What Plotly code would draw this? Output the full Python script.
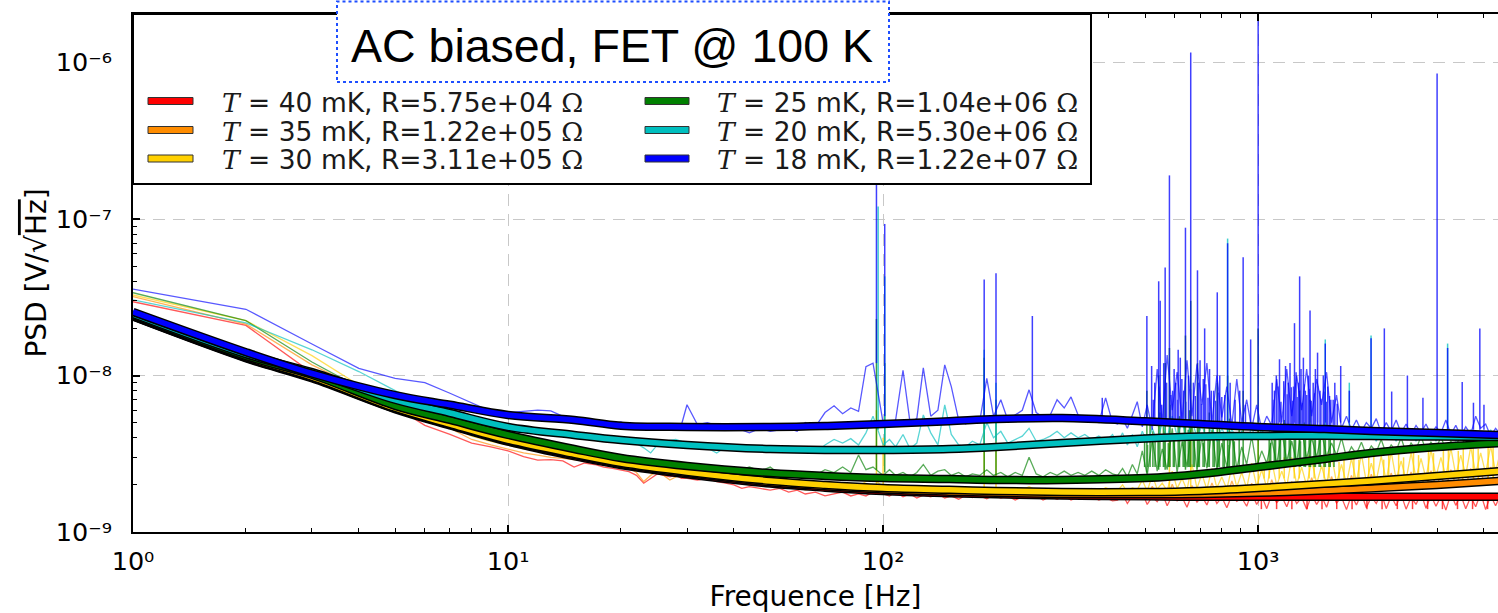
import plotly.graph_objects as go

# ---------------------------------------------------------------- data
temps_mk = [40, 35, 30, 25, 20, 18]
resist_ohm = [5.75e4, 1.22e5, 3.11e5, 1.04e6, 5.30e6, 1.22e7]
colors = ["#ff0000", "#ff8c00", "#ffd000", "#008000", "#00bfbf", "#0000ff"]

# measured noise spectra, common frequency grid [Hz], values in nV/sqrt(Hz)
freq_hz = [
    1, 2, 3, 4, 5, 6, 7, 8, 9, 10,
    11, 12, 13, 14, 15, 16, 17, 18, 19, 20, 21, 22, 23, 24, 25, 26, 27, 28, 29, 30,
    32, 34, 36, 38, 40, 42, 44, 47, 50, 53, 56, 59, 62, 66, 70, 74, 78, 82, 86, 90, 94,
    100, 104, 108, 113, 118, 123, 128, 134, 140, 146, 152, 159, 166, 173, 181, 189, 197,
    206, 215, 225, 235, 245, 256, 267, 279, 291, 304, 317, 331, 345, 360, 376, 392, 409,
    422, 435, 448, 462, 476, 491, 506, 522, 538, 555,
    572, 590, 608, 627, 646, 666, 687, 708, 730, 753,
    776, 800, 825, 851, 877, 904, 932, 961, 991, 1022,
    1054, 1087, 1121, 1156, 1192, 1229, 1267, 1306, 1347, 1389,
    1432, 1476, 1522, 1569, 1618, 1668, 1720, 1773, 1828, 1885,
    1943, 2003, 2065, 2129, 2195, 2263, 2333, 2405, 2480, 2557,
    2636, 2718, 2802, 2889, 2979, 3071, 3166, 3264, 3365, 3469,
    3577, 3688, 3802, 3920, 4042, 4167, 4296, 4430,
]

psd_40mk = [
    29.6, 20.9, 10.4, 8.3, 6.3, 4.8, 4.2, 3.7, 3.5, 3.3,
    3.03, 2.88, 2.9, 2.85, 2.6, 2.76, 2.7, 2.6, 2.55, 2.5, 2.43, 2.3, 2.05, 2.2, 2.35, 2.3, 2.25, 2.3, 2.2, 2.2,
    2.15, 2.2, 2.1, 2.05, 2.0, 1.9, 1.95, 1.9, 1.85, 1.9, 1.8, 1.85, 1.75, 1.8, 1.7, 1.75, 1.8, 1.7, 1.75, 1.7, 1.8,
    1.75, 1.7, 1.8, 1.68, 1.75, 1.65, 1.72, 1.68, 1.75, 1.65, 1.7, 1.62, 1.72, 1.66, 1.7, 1.63, 1.72,
    1.65, 1.7, 1.6, 1.68, 1.64, 1.7, 1.6, 1.68, 1.62, 1.7, 1.6, 1.67, 1.62, 1.68, 1.6, 1.66, 1.58,
    1.6, 1.74, 1.52, 1.7, 1.63, 1.78, 1.5, 1.68, 1.56, 1.76,
    1.47, 1.71, 1.58, 1.66, 1.44, 1.75, 1.55, 1.69, 1.49, 1.8,
    1.52, 1.67, 1.43, 1.72, 1.57, 1.65, 1.46, 1.78, 1.5, 1.7,
    1.41, 1.73, 1.54, 1.68, 1.45, 1.77, 1.52, 1.66, 1.4, 1.74,
    1.5, 1.69, 1.44, 1.79, 1.53, 1.67, 1.39, 1.72, 1.49, 1.75,
    1.43, 1.68, 1.52, 1.77, 1.41, 1.7, 1.47, 1.74, 1.4, 1.67,
    1.5, 1.76, 1.42, 1.71, 1.46, 1.69, 1.38, 1.75, 1.48, 1.72,
    1.41, 1.68, 1.45, 1.77, 1.39, 1.71, 1.47, 1.73,
]
psd_35mk = [
    31.9, 21.3, 11.7, 8.4, 6.4, 5.6, 4.6, 3.9, 3.6, 3.4,
    3.2, 3.1, 3.0, 2.95, 2.9, 2.85, 2.8, 2.7, 2.65, 2.6, 2.55, 2.4, 2.1, 2.3, 2.45, 2.3, 2.15, 2.25, 2.3, 2.25,
    2.3, 2.25, 2.2, 2.15, 2.1, 2.05, 2.0, 2.05, 1.95, 2.0, 1.9, 1.95, 1.85, 1.9, 1.85, 1.9, 1.8, 1.85, 1.8, 1.9, 1.85,
    1.85, 1.8, 1.88, 1.78, 1.84, 1.76, 1.82, 1.75, 1.83, 1.74, 1.8, 1.73, 1.8, 1.72, 1.79, 1.72, 1.78,
    1.71, 1.77, 1.7, 1.76, 1.7, 1.76, 1.69, 1.75, 1.69, 1.76, 1.68, 1.75, 1.68, 1.76, 1.68, 1.75, 1.68,
    1.7, 1.82, 1.64, 1.9, 1.68, 1.78, 1.63, 1.96, 1.7, 1.86,
    1.62, 2.02, 1.69, 1.84, 1.64, 1.98, 1.72, 1.88, 1.65, 2.06,
    1.7, 1.9, 1.66, 2.12, 1.73, 1.94, 1.67, 2.05, 1.74, 1.92,
    1.69, 2.16, 1.75, 1.98, 1.7, 2.1, 1.78, 2.0, 1.72, 2.22,
    1.8, 2.05, 1.75, 2.26, 1.82, 2.1, 1.78, 2.3, 1.85, 2.14,
    1.8, 2.34, 1.87, 2.18, 1.83, 2.38, 1.9, 2.2, 1.86, 2.42,
    1.93, 2.26, 1.89, 2.46, 1.96, 2.3, 1.92, 2.5, 1.99, 2.35,
    1.95, 2.55, 2.02, 2.4, 1.98, 2.6, 2.05, 2.45,
]
psd_30mk = [
    32.7, 22.4, 13.4, 8.7, 6.6, 5.6, 4.8, 4.1, 3.8, 3.6,
    3.4, 3.3, 3.2, 3.1, 3.05, 3.0, 2.95, 2.85, 2.8, 2.75, 2.7, 2.65, 2.6, 2.55, 2.5, 2.5, 2.45, 2.45, 2.4, 2.4,
    2.35, 2.3, 2.3, 2.25, 2.2, 2.2, 2.15, 2.1, 2.1, 2.05, 2.05, 2.0, 2.0, 1.95, 2.0, 1.95, 1.95, 1.9, 1.95, 2.1, 2.2,
    1.95, 1.9, 1.98, 1.88, 1.94, 1.86, 1.92, 1.85, 1.9, 1.84, 1.9, 1.83, 1.88, 1.82, 1.88, 1.9, 1.86,
    1.8, 1.87, 1.8, 1.86, 1.95, 1.85, 1.79, 1.86, 1.8, 1.87, 1.8, 1.88, 1.8, 1.9, 1.82, 1.92, 1.84,
    1.84, 2.0, 1.8, 1.92, 1.86, 2.15, 1.82, 2.3, 1.88, 2.05,
    1.83, 2.45, 1.9, 2.2, 1.85, 2.7, 1.9, 2.35, 1.87, 2.55,
    1.92, 2.25, 1.88, 2.6, 1.94, 2.4, 1.9, 2.75, 1.95, 2.5,
    1.92, 2.85, 1.98, 2.45, 1.95, 3.0, 2.0, 2.6, 1.97, 2.9,
    2.03, 2.65, 2.0, 3.1, 2.06, 2.7, 2.03, 2.95, 2.1, 3.15,
    2.08, 2.75, 2.13, 3.05, 2.12, 3.25, 2.17, 2.85, 2.16, 3.2,
    2.22, 2.95, 2.2, 3.35, 2.26, 3.0, 2.25, 3.45, 2.3, 3.1,
    2.3, 3.5, 2.36, 3.2, 2.36, 3.55, 2.42, 3.3,
]
psd_25mk = [
    33.8, 22.4, 12.2, 8.4, 6.8, 5.9, 5.3, 4.8, 4.45, 4.2,
    4.0, 3.85, 3.7, 3.55, 3.45, 3.3, 3.25, 3.1, 3.05, 3.0, 2.95, 2.9, 2.85, 2.8, 2.75, 2.75, 2.7, 2.7, 2.65, 2.65,
    2.6, 2.55, 2.6, 2.5, 2.45, 2.5, 2.6, 2.45, 2.6, 2.35, 2.45, 2.3, 2.4, 2.3, 2.5, 2.4, 2.6, 2.4, 3.1, 2.5, 2.6,
    2.3, 2.5, 2.3, 2.4, 2.25, 2.4, 2.7, 2.3, 2.45, 2.5, 2.3, 2.4, 2.25, 2.35, 2.3, 2.5, 2.3,
    2.4, 2.25, 2.4, 2.3, 3.0, 2.35, 2.25, 2.4, 2.3, 2.45, 2.3, 2.4, 2.3, 2.45, 2.3, 2.5, 2.35,
    2.3, 2.55, 2.25, 2.7, 2.35, 3.3, 2.3, 3.9, 2.45, 3.4,
    2.5, 4.6, 2.4, 3.8, 2.6, 4.9, 2.45, 4.1, 2.55, 4.5,
    2.5, 3.7, 2.6, 4.3, 2.55, 3.5, 2.7, 4.1, 2.6, 3.3,
    2.75, 3.9, 2.7, 4.4, 2.85, 3.8, 2.8, 4.6, 2.95, 4.0,
    3.0, 4.3, 3.05, 3.7, 3.1, 4.0, 3.0, 3.5, 3.15, 3.75,
    3.1, 3.55, 3.25, 3.9, 3.15, 3.6, 3.3, 4.0, 3.2, 3.7,
    3.35, 4.1, 3.3, 3.75, 3.4, 4.05, 3.35, 3.8, 3.5, 4.2,
    3.45, 3.9, 3.5, 4.15, 3.55, 3.85, 3.6, 4.2,
]
psd_20mk = [
    30.4, 21.7, 14.6, 10.6, 8.0, 6.4, 5.8, 5.3, 4.9, 4.7,
    4.6, 4.45, 4.4, 4.3, 4.2, 4.15, 4.0, 4.1, 4.05, 3.9, 3.95, 3.7, 3.45, 3.2, 3.6, 3.75, 3.85, 3.9, 3.8, 3.6,
    3.6, 3.45, 3.2, 3.5, 3.55, 3.4, 3.45, 3.35, 3.45, 3.5, 3.55, 3.3, 3.45, 3.2, 3.6, 3.9, 3.7, 3.95, 3.6, 4.3, 5.5,
    3.6, 3.9, 3.5, 4.2, 3.4, 3.7, 5.6, 4.3, 3.6, 6.5, 4.2, 3.6, 3.5, 3.8, 3.6, 5.0, 4.0,
    4.4, 3.7, 3.9, 4.1, 4.6, 3.8, 3.9, 4.1, 4.4, 4.0, 4.3, 4.0, 4.2, 3.9, 4.1, 3.8, 4.2,
    3.7, 4.3, 3.6, 4.2, 3.5, 4.4, 3.7, 4.6, 3.8, 5.0,
    4.0, 5.5, 4.1, 5.0, 3.9, 5.2, 4.0, 4.8, 3.9, 4.7,
    3.8, 4.6, 3.9, 4.5, 4.0, 4.4, 3.9, 4.6, 3.9, 4.5,
    4.0, 4.7, 3.9, 4.8, 4.0, 4.6, 3.9, 4.9, 4.0, 4.7,
    3.9, 4.6, 4.0, 4.5, 3.9, 4.5, 3.9, 4.4, 3.9, 4.5,
    3.9, 4.4, 3.8, 4.5, 3.9, 4.4, 3.8, 4.4, 3.9, 4.5,
    3.8, 4.4, 3.9, 4.5, 3.8, 4.4, 3.9, 4.5, 3.8, 4.4,
    3.9, 4.5, 3.9, 4.4, 3.8, 4.5, 3.9, 4.3,
]
psd_18mk = [
    35.6, 26.5, 15.9, 11.1, 9.6, 9.0, 7.7, 6.7, 5.9, 5.8,
    5.9, 6.0, 5.95, 5.5, 5.1, 4.95, 4.9, 4.85, 4.9, 5.05, 4.8, 4.55, 4.6, 4.8, 4.75, 4.7, 4.8, 4.9, 4.85, 6.5,
    4.85, 5.0, 4.8, 4.9, 4.7, 4.5, 4.3, 4.6, 4.4, 4.5, 4.6, 4.4, 5.0, 4.7, 5.8, 6.4, 5.7, 6.2, 5.9, 11.4, 12.0,
    5.0, 4.9, 5.2, 10.8, 5.0, 5.3, 11.2, 5.5, 6.0, 11.7, 8.5, 5.2, 4.9, 5.3, 5.1, 9.6, 5.5,
    7.0, 5.2, 5.6, 6.0, 8.1, 5.8, 5.4, 5.6, 7.0, 6.2, 7.3, 5.6, 5.2, 5.3, 5.0, 7.2, 5.0,
    4.9, 5.3, 4.6, 5.6, 6.8, 4.7, 6.5, 4.5, 11.0, 5.0,
    13.5, 6.0, 10.5, 5.2, 12.5, 5.5, 11.8, 6.5, 12.0, 5.0,
    10.0, 5.4, 8.5, 4.8, 9.5, 5.0, 7.0, 4.6, 6.5, 4.5,
    5.5, 4.8, 9.5, 5.0, 11.0, 5.5, 10.0, 6.0, 11.0, 5.5,
    9.5, 6.5, 10.5, 5.0, 7.5, 4.6, 5.5, 4.5, 5.2, 4.4,
    5.0, 4.6, 5.3, 4.3, 5.0, 4.4, 5.2, 4.3, 4.9, 4.2,
    4.8, 4.3, 4.9, 4.2, 4.7, 4.3, 5.2, 4.2, 4.8, 4.1,
    4.7, 4.2, 5.5, 4.6, 4.9, 4.1, 4.6, 4.2,
]

# narrow lines (pickup harmonics): frequency [Hz], floor and peak [nV/sqrt(Hz)]
lines_18mk_hz = [96, 101, 186, 200, 250, 384, 505, 520, 543, 548, 565, 580, 612, 640, 661,
                 689, 720, 778, 829, 912, 955, 1000, 1090, 1140, 1250, 1290, 1320, 1375,
                 1440, 1510, 1660, 1750, 2000, 2170, 2270, 2500, 2750, 3000, 3200, 3500,
                 3750, 3900, 4000]
lines_18mk_peak = [170, 93, 41, 45, 24, 7.2, 24, 11.5, 40, 30, 49, 190, 14.6, 88, 1160,
                   47, 20, 34, 70, 57, 17, 2500, 9, 12.7, 21.6, 43, 13, 26,
                   14, 16, 11.5, 8, 17.3, 20, 7.9, 10, 7.2, 850, 15, 9.1,
                   6.7, 20, 6.5]
lines_18mk_floor = [12, 5.5, 5, 5.5, 5.5, 5, 5, 5, 5, 5, 5, 5, 5, 5, 5,
                    5, 5, 5, 5, 5, 5, 5, 5, 5, 5, 5, 5, 5,
                    5, 5, 5, 5, 4.5, 4.5, 4.5, 4.5, 4.5, 4.5, 4.5, 4.5,
                    4.5, 4.5, 4.5]
lines_20mk_hz = [97, 101, 186, 200, 829, 1510, 1750, 2000, 3200]
lines_20mk_peak = [120, 43, 14.6, 9, 75, 17, 9, 18, 16]
lines_20mk_floor = [4.5, 3.6, 3.6, 3.8, 4, 4, 4, 4, 4]
lines_25mk_hz = [96, 101, 186, 200, 505, 543, 565, 580, 640, 661, 689, 778, 829, 912, 1000, 1290, 1375]
lines_25mk_peak = [23, 12, 13, 7, 8, 10, 12, 15, 18, 30, 12, 9, 10, 8, 20, 8, 7]
lines_25mk_floor = [2.5, 2.4, 2.3, 2.3, 2.4, 2.5, 2.5, 2.6, 2.5, 2.6, 2.6, 2.6, 2.6, 2.6, 2.7, 2.9, 2.9]
lines_30mk_hz = [96, 100, 186, 200, 580, 661, 1000]
lines_30mk_peak = [6.0, 4.0, 5.0, 3.6, 4.0, 6.0, 5.0]
lines_30mk_floor = [2.0, 2.0, 1.9, 1.9, 1.9, 1.9, 1.9]

# dense noise bursts: frequency [Hz] and excursion [nV/sqrt(Hz)] above a common floor
burst_18mk_hz = [530, 560, 597, 603, 620, 633, 652, 672, 700, 714,
                 742, 761, 790, 815, 842, 868, 893, 925, 1105, 1118,
                 1183, 1203, 1216, 1242, 1262, 1282, 1301, 1336, 1361, 1402,
                 1421, 1462, 1492, 1533, 1562, 1601,
                 525, 545, 553, 570, 585, 592, 610, 626, 641, 660,
                 680, 693, 706, 725, 735, 750, 770, 782, 800, 1095,
                 1130, 1150, 1170, 1195, 1225, 1235, 1255, 1270, 1292, 1312,
                 1325, 1348, 1370, 1385, 1410, 1440, 1470, 1500, 1520, 1550,
                 1585, 1625]
burst_18mk_peak = [9, 12, 11, 9, 13, 8, 10, 9, 12.5, 9.5,
                   11, 8, 10, 7.5, 9, 7, 8, 6.5, 8, 10,
                   11.5, 9, 12, 8.5, 10.5, 9, 11, 8, 10, 9,
                   11, 8, 10, 8.5, 7, 9,
                   7, 8.5, 6.5, 9, 7.5, 8, 7, 9.5, 6.8, 8.2,
                   7.4, 9, 6.6, 8.8, 7.2, 8, 6.9, 7.8, 7.3, 7,
                   8.5, 6.8, 9.2, 7.6, 8.4, 6.9, 9, 7.3, 8.1, 6.7,
                   8.8, 7.5, 8.2, 6.9, 7.7, 8.6, 7.1, 7.9, 6.8, 7.4,
                   7.0, 6.6]
burst_18mk_floor = 4.8
burst_25mk_hz = [498, 515, 531, 547, 563, 582, 598, 617, 636, 656,
                 676, 697, 719, 741, 764, 788, 812, 838, 864, 890,
                 1070, 1104, 1138, 1174, 1210, 1248, 1287, 1326, 1368, 1410,
                 1454, 1499, 1545, 1593,
                 507, 524, 541, 559, 576, 594, 612, 631, 651, 671,
                 692, 713, 735, 758, 782, 806, 831, 857, 1080, 1113,
                 1147, 1183, 1220, 1258, 1297, 1337, 1379, 1421, 1465, 1511,
                 1557]
burst_25mk_peak = [4.2, 5.2, 3.8, 5.8, 4.4, 6.5, 4.0, 5.5, 4.8, 6.0,
                   4.3, 5.2, 4.6, 5.8, 3.9, 4.9, 4.2, 5.3, 3.8, 4.5,
                   4.0, 4.8, 4.4, 5.2, 4.1, 4.9, 4.5, 5.0, 4.2, 4.7,
                   4.0, 4.6, 3.9, 4.3,
                   3.6, 4.4, 3.9, 4.7, 3.7, 4.2, 4.9, 3.8, 4.5, 4.0,
                   5.0, 3.7, 4.3, 4.6, 3.9, 4.2, 3.6, 4.1, 3.7, 4.3,
                   3.9, 4.6, 4.0, 4.4, 3.8, 4.5, 4.1, 4.3, 3.9, 4.2,
                   4.0]
burst_25mk_floor = 2.6
burst_30mk_hz = [1038, 1070, 1138, 1174, 1248, 1287, 1368, 1410, 1499, 1545,
                 1643, 1694, 1800, 1856, 1972, 2034, 2162, 2229, 2369, 2442,
                 2596, 2677, 2845, 2934, 3118, 3215, 3417, 3523, 3745, 3861,
                 4104, 4231]
burst_30mk_peak = [2.6, 2.9, 2.7, 3.0, 2.8, 2.6, 3.1, 2.8, 2.9, 3.2,
                   2.8, 3.0, 3.2, 2.9, 3.1, 3.3, 2.9, 3.2, 3.4, 3.0,
                   3.3, 3.1, 3.5, 3.2, 3.4, 3.6, 3.3, 3.5, 3.7, 3.4,
                   3.6, 3.8]
burst_30mk_floor = 2.2
burst_40mk_hz = [1020, 1120, 1230, 1350, 1480, 1620, 1780, 1950, 2140, 2350,
                 2580, 2830, 3100, 3400, 3730, 4090]
burst_40mk_peak = [1.72, 1.75, 1.7, 1.76, 1.72, 1.74, 1.7, 1.77, 1.72, 1.75,
                   1.71, 1.76, 1.73, 1.75, 1.7, 1.76]
burst_40mk_floor = 1.4

# model fits [nV/sqrt(Hz)]
fit_freq_hz = [1, 2, 3, 5, 7, 10, 15, 20, 30, 50, 70, 100, 150, 200, 300, 500, 700,
               1000, 1500, 2000, 3000, 4400]
fit_40mk = [23.8, 12.9, 9.6, 6.1, 4.8, 3.78, 3.05, 2.68, 2.34, 2.04, 1.92, 1.83, 1.77,
            1.74, 1.71, 1.69, 1.68, 1.68, 1.68, 1.68, 1.68, 1.68]
fit_35mk = [23.9, 13.0, 9.7, 6.15, 4.85, 3.82, 3.1, 2.72, 2.38, 2.08, 1.96, 1.87, 1.81,
            1.78, 1.75, 1.74, 1.75, 1.78, 1.84, 1.9, 2.0, 2.12]
fit_30mk = [24.0, 13.1, 9.8, 6.2, 4.9, 3.87, 3.15, 2.76, 2.42, 2.12, 2.0, 1.91, 1.86,
            1.83, 1.8, 1.8, 1.83, 1.91, 2.03, 2.12, 2.28, 2.45]
fit_25mk = [24.3, 13.3, 10.1, 6.4, 5.2, 4.17, 3.39, 2.97, 2.64, 2.38, 2.28, 2.21, 2.18,
            2.15, 2.15, 2.21, 2.35, 2.6, 2.93, 3.2, 3.49, 3.7]
fit_20mk = [24.7, 13.7, 10.5, 7.0, 5.76, 4.69, 4.17, 3.87, 3.6, 3.39, 3.34, 3.34, 3.39,
            3.49, 3.7, 3.96, 4.08, 4.11, 4.12, 4.1, 4.07, 4.05]
fit_18mk = [25.5, 14.1, 10.3, 7.5, 6.5, 5.6, 5.2, 4.78, 4.69, 4.69, 4.76, 4.9, 5.1,
            5.27, 5.35, 5.1, 4.9, 4.69, 4.55, 4.42, 4.29, 4.17]

spectra = [psd_40mk, psd_35mk, psd_30mk, psd_25mk, psd_20mk, psd_18mk]
fits = [fit_40mk, fit_35mk, fit_30mk, fit_25mk, fit_20mk, fit_18mk]
lines = {
    30: (lines_30mk_hz, lines_30mk_floor, lines_30mk_peak),
    25: (lines_25mk_hz, lines_25mk_floor, lines_25mk_peak),
    20: (lines_20mk_hz, lines_20mk_floor, lines_20mk_peak),
    18: (lines_18mk_hz, lines_18mk_floor, lines_18mk_peak),
}
bursts = {
    40: (burst_40mk_hz, burst_40mk_floor, burst_40mk_peak),
    30: (burst_30mk_hz, burst_30mk_floor, burst_30mk_peak),
    25: (burst_25mk_hz, burst_25mk_floor, burst_25mk_peak),
    18: (burst_18mk_hz, burst_18mk_floor, burst_18mk_peak),
}
NV = 1e-9

# ---------------------------------------------------------------- layout geometry
W, H = 1498, 613
ML, MR, MT, MB = 133, 0, 14, 81
PW, PH = W - ML - MR, H - MT - MB


def px_x(x):
    return (x - ML) / PW


def px_y(y):
    return (H - MB - y) / PH


fig = go.Figure()

for t, spec, col in zip(temps_mk, spectra, colors):
    assert len(spec) == len(freq_hz), (t, len(spec), len(freq_hz))
    fig.add_trace(go.Scatter(
        x=freq_hz, y=[v * NV for v in spec], mode="lines",
        line=dict(color=col, width=1.3), opacity=0.65,
        name=f"{t} mK data", showlegend=False, hoverinfo="skip"))
    xs, ys = [], []
    if t in bursts:
        fx, lo, pk = bursts[t]
        assert len(fx) == len(pk), (t, len(fx), len(pk))
        for f, hi in zip(fx, pk):
            xs += [f, f, None]
            ys += [lo * NV, hi * NV, None]
    if t in lines:
        fx, fl, pk = lines[t]
        assert len(fx) == len(fl) == len(pk)
        for f, lo, hi in zip(fx, fl, pk):
            xs += [f, f, None]
            ys += [lo * NV, hi * NV, None]
    if xs:
        fig.add_trace(go.Scatter(
            x=xs, y=ys, mode="lines", line=dict(color=col, width=1.5),
            opacity=0.75, showlegend=False, hoverinfo="skip",
            name=f"{t} mK lines"))

for t, fit, col in zip(temps_mk, fits, colors):
    yv = [v * NV for v in fit]
    fig.add_trace(go.Scatter(
        x=fit_freq_hz, y=yv, mode="lines", line=dict(color="black", width=8.5, shape="spline"),
        showlegend=False, hoverinfo="skip"))
    fig.add_trace(go.Scatter(
        x=fit_freq_hz, y=yv, mode="lines", line=dict(color=col, width=5.5, shape="spline"),
        name=f"{t} mK fit", showlegend=False, hoverinfo="skip"))

# ---------------------------------------------------------------- legend block
shapes = [dict(type="rect", xref="paper", yref="paper", layer="above",
               x0=px_x(133), x1=px_x(1091), y0=px_y(184), y1=px_y(14),
               line=dict(color="black", width=2), fillcolor="white")]
annotations = []
row_y = [101, 130, 158.5]
col_sw = [(148, 193), (645, 689)]
col_tx = [220, 715]
serif = "<span style='font-family:DejaVu Serif'>"
for i, (t, r, col) in enumerate(zip(temps_mk, resist_ohm, colors)):
    c, rw = divmod(i, 3)
    y = row_y[rw]
    shapes.append(dict(type="rect", xref="paper", yref="paper", layer="above",
                       x0=px_x(col_sw[c][0]), x1=px_x(col_sw[c][1]),
                       y0=px_y(y + 3.5), y1=px_y(y - 3.5),
                       line=dict(color="#333333", width=1), fillcolor=col))
    label = f"{serif}<i>T</i></span> = {t} mK, R={r:.2e} {serif}\u03a9</span>"
    annotations.append(dict(xref="paper", yref="paper", x=px_x(col_tx[c]), y=px_y(y + 1),
                            xanchor="left", yanchor="middle", showarrow=False, text=label,
                            font=dict(family="DejaVu Sans", size=26.5, color="#1a1a1a")))

shapes.append(dict(type="rect", xref="paper", yref="paper", layer="above",
                   x0=px_x(337), x1=px_x(889), y0=px_y(82), y1=px_y(1.5),
                   line=dict(color="#1f4fff", width=2, dash="dot"), fillcolor="white"))
annotations.append(dict(xref="paper", yref="paper", x=px_x(612), y=px_y(46),
                        xanchor="center", yanchor="middle", showarrow=False,
                        text="AC biased, FET @ 100 K",
                        font=dict(family="Liberation Sans", size=46.5, color="black")))

x_major = [1, 10, 100, 1000]
x_labels = ["10\u2070", "10\u00b9", "10\u00b2", "10\u00b3"]
y_major = [1e-9, 1e-8, 1e-7, 1e-6]
y_labels = ["10\u207b\u2079", "10\u207b\u2078", "10\u207b\u2077", "10\u207b\u2076"]
x_minor = [m * 10 ** d for d in range(4) for m in range(2, 10)]
y_minor = [m * 10.0 ** d for d in range(-9, -5) for m in range(2, 10)]

tick_font = dict(family="DejaVu Sans", size=25.5, color="black")
title_font = dict(family="DejaVu Sans", size=28, color="black")
fig.update_layout(
    width=W, height=H,
    margin=dict(l=ML, r=MR, t=MT, b=MB, pad=0),
    paper_bgcolor="white", plot_bgcolor="white",
    showlegend=False,
    shapes=shapes, annotations=annotations,
    xaxis=dict(
        type="log", range=[0, 3.6395], showline=True, linecolor="black", linewidth=2,
        mirror="ticks", ticks="inside", ticklen=7, tickwidth=1.5, tickcolor="black",
        tickvals=x_major, ticktext=x_labels, tickfont=tick_font, ticklabelstandoff=5,
        showgrid=True, gridcolor="#c8c8c8", gridwidth=1.2, griddash="12px,8px",
        minor=dict(tickvals=x_minor, ticks="inside", ticklen=4, tickwidth=1,
                   tickcolor="black", showgrid=False),
        title=dict(text="Frequence [Hz]", font=title_font, standoff=12),
        automargin=False,
    ),
    yaxis=dict(
        type="log", range=[-9, -5.69], showline=True, linecolor="black", linewidth=2,
        mirror=False, ticks="inside", ticklen=7, tickwidth=1.5, tickcolor="black",
        tickvals=y_major, ticktext=y_labels, tickfont=tick_font, ticklabelstandoff=14,
        showgrid=True, gridcolor="#c8c8c8", gridwidth=1.2, griddash="12px,8px",
        minor=dict(tickvals=y_minor, ticks="inside", ticklen=4, tickwidth=1,
                   tickcolor="black", showgrid=False),
        title=dict(text="PSD [V/\u221a<span style='text-decoration:overline'>Hz</span>]",
                   font=title_font, standoff=1),
        automargin=False,
    ),
)

fig.write_html("out.html", config={"displayModeBar": False})
